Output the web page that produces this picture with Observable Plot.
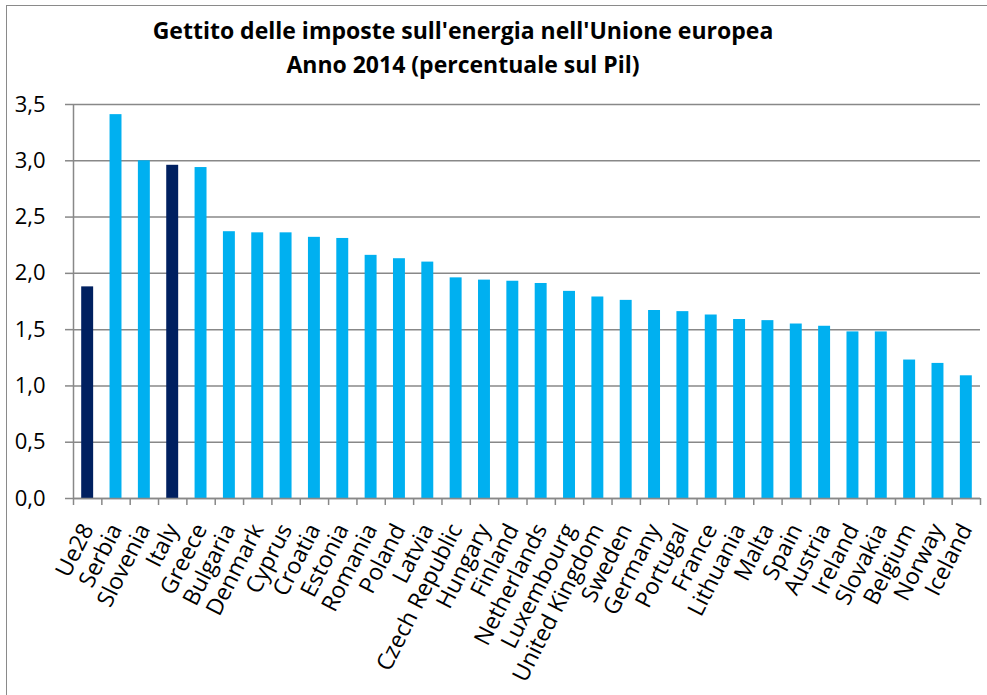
<!DOCTYPE html>
<html>
<head>
<meta charset="utf-8">
<script src="https://cdn.jsdelivr.net/npm/d3@7"></script>
<script src="https://cdn.jsdelivr.net/npm/@observablehq/plot@0.6"></script>
<style>
  html, body { margin: 0; padding: 0; background: #fff; overflow: hidden; }
  #wrap { position: relative; width: 987px; height: 695px; overflow: hidden; }
  #frame { position: absolute; left: 6px; top: 5px; width: 1200px; height: 900px; border: 1.5px solid #8a8a8a; box-sizing: border-box; }
  #title { position: absolute; left: 0; top: 13px; width: 926px; text-align: center;
    font-family: "Open Sans", sans-serif; font-weight: bold; font-size: 23px; line-height: 34px; color: #000; }
  #chart { position: absolute; left: 0; top: 0; }
  #chart svg text { font-family: "Open Sans", sans-serif; }
</style>
</head>
<body>
<div id="wrap">
  <div id="frame"></div>
  <div id="chart"></div>
  <div id="title">Gettito delle imposte sull'energia nell'Unione europea<br>Anno 2014 (percentuale sul Pil)</div>
</div>
<script>
const countries = ["Ue28","Serbia","Slovenia","Italy","Greece","Bulgaria","Denmark","Cyprus","Croatia","Estonia","Romania","Poland","Latvia","Czech Republic","Hungary","Finland","Netherlands","Luxembourg","United Kingdom","Sweden","Germany","Portugal","France","Lithuania","Malta","Spain","Austria","Ireland","Slovakia","Belgium","Norway","Iceland"];
const values = [1.88,3.41,3.00,2.96,2.94,2.37,2.36,2.36,2.32,2.31,2.16,2.13,2.10,1.96,1.94,1.93,1.91,1.84,1.79,1.76,1.67,1.66,1.63,1.59,1.58,1.55,1.53,1.48,1.48,1.23,1.20,1.09];
const highlighted = ["Ue28","Italy"];
const yTicks = [0,0.5,1,1.5,2,2.5,3,3.5];

const data = countries.map((c, i) => ({country: c, i, value: values[i], hi: highlighted.includes(c)}));
const fmt = d => d.toFixed(1).replace(".", ",");
const FONT = "Open Sans";

const chart = Plot.plot({
  width: 987,
  height: 695,
  marginLeft: 73,
  marginRight: 7,
  marginTop: 104,
  marginBottom: 197,
  style: {fontFamily: FONT, fontSize: "22px", color: "#000", background: "transparent", overflow: "visible"},
  x: {type: "linear", domain: [0, countries.length], axis: null},
  y: {domain: [0, 3.5], axis: null},
  marks: [
    Plot.gridY(yTicks, {stroke: "#888", strokeWidth: 1.5, strokeOpacity: 1}),
    Plot.rectY(data, {x1: d => d.i, x2: d => d.i + 1, y: "value", insetLeft: 8.2, insetRight: 8.2,
      fill: d => d.hi ? "#002060" : "#00B0F0"}),
    Plot.ruleX([0], {stroke: "#888", strokeWidth: 1.5}),
    Plot.axisY({ticks: yTicks, tickFormat: fmt, tickSize: 8, tickPadding: 20, label: null, stroke: "#888", strokeWidth: 1.5,
      fill: "#000", fontSize: 22, fontFamily: FONT}),
    Plot.axisX({ticks: d3.range(countries.length + 1), tickFormat: () => "", label: null, tickSize: 7, stroke: "#888", strokeWidth: 1.5}),
    Plot.axisX({ticks: d3.range(countries.length).map(i => i + 0.5), tickFormat: d => countries[Math.floor(d)], label: null,
      tickSize: 0, tickPadding: 27, tickRotate: -63, fill: "#000", fontSize: 23, fontFamily: FONT, textOverflow: null}),
    Plot.ruleY([0], {stroke: "#888", strokeWidth: 1.5})
  ]
});
document.getElementById("chart").appendChild(chart);
</script>
</body>
</html>
